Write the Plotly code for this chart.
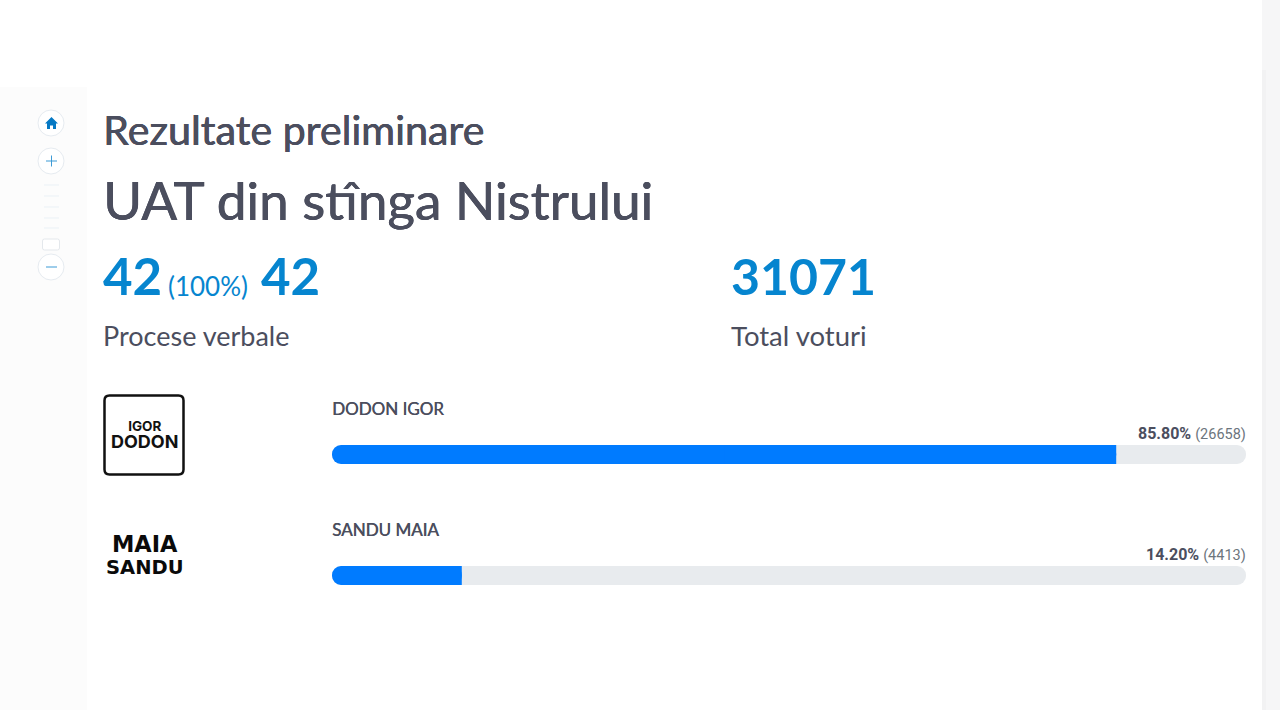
import plotly.graph_objects as go

candidates = ["DODON IGOR", "SANDU MAIA"]
shares = [85.80, 14.20]
votes = [26658, 4413]
title_top = "Rezultate preliminare"
title_main = "UAT din stînga Nistrului"
reports_done = 42
reports_pct = "(100%)"
reports_total = 42
reports_label = "Procese verbale"
total_votes = 31071
total_label = "Total voturi"

DARK = "#4b4e5e"
BLUE = "#0685cf"
BAR = "#007bff"
TRACK = "#e8ebee"
GREY = "#6c757d"
W, H = 1280, 710
BODY = "Lato"
NUM = "Roboto"


def px(x):
    return x / W


def py(y):
    return 1 - y / H


def hbar(xs, bases, color, radius):
    fig.add_trace(go.Bar(
        y=candidates, x=xs, base=bases, orientation="h",
        marker=dict(color=color, cornerradius=radius, line_width=0),
        hoverinfo="skip", showlegend=False,
    ))


fig = go.Figure()
# grey track, blue rounded bar, then a square-cornered overlay for the blue bar's right half
hbar([100 for _ in shares], [0 for _ in shares], TRACK, 9)
hbar(shares, [0 for _ in shares], BAR, 9)
hbar([s / 2 for s in shares], [s / 2 for s in shares], BAR, 0)

shapes = []


def rect(x0, y0, x1, y1, fill, line=None, lw=0):
    shapes.append(dict(type="rect", xref="paper", yref="paper", layer="below",
                       x0=px(x0), x1=px(x1), y0=py(y0), y1=py(y1), fillcolor=fill,
                       line=dict(color=line or fill, width=lw)))


def rpath(x0, y0, x1, y1, r, fill, line, lw):
    pts = [("M", x0 + r, y0), ("L", x1 - r, y0), ("Q", x1, y0, x1, y0 + r), ("L", x1, y1 - r),
           ("Q", x1, y1, x1 - r, y1), ("L", x0 + r, y1), ("Q", x0, y1, x0, y1 - r),
           ("L", x0, y0 + r), ("Q", x0, y0, x0 + r, y0)]
    d = ""
    for p in pts:
        c = p[1:]
        d += p[0] + " ".join(f"{px(c[i]):.5f},{py(c[i + 1]):.5f}" for i in range(0, len(c), 2)) + " "
    shapes.append(dict(type="path", xref="paper", yref="paper", path=d + "Z", fillcolor=fill,
                       line=dict(color=line, width=lw)))


def seg(x0, y0, x1, y1, color, lw=1):
    shapes.append(dict(type="line", xref="paper", yref="paper", x0=px(x0), x1=px(x1),
                       y0=py(y0), y1=py(y1), line=dict(color=color, width=lw)))


def circle(cx, cy, r):
    shapes.append(dict(type="circle", xref="paper", yref="paper", x0=px(cx - r), x1=px(cx + r),
                       y0=py(cy - r), y1=py(cy + r), fillcolor="#ffffff",
                       line=dict(color="#e6ebf0", width=1)))


# page panels
rect(0, 87, 87, 710, "#fcfcfc")
rect(1262, 0, 1280, 710, "#f6f6f7")
rect(1262, 70, 1266, 710, "#f2f2f3")

# map zoom control
circle(51, 123, 13)
circle(51, 161, 13)
circle(51, 267, 13)
home = [(51.5, 117), (58, 123.5), (56, 123.5), (56, 129), (53, 129), (53, 125.5), (50, 125.5),
        (50, 129), (47, 129), (47, 123.5), (45, 123.5)]
shapes.append(dict(type="path", xref="paper", yref="paper", fillcolor="#0679c4", line_width=0,
                   path="M" + " L".join(f"{px(a):.5f},{py(b):.5f}" for a, b in home) + " Z"))
seg(46, 161, 57, 161, "#3d9bd6")
seg(51.5, 155.5, 51.5, 166.5, "#3d9bd6")
seg(46, 267, 57, 267, "#3d9bd6")
for yy in (185, 196, 207, 218, 228):
    seg(44, yy, 59, yy, "#eaf1f6")
rpath(42.5, 239, 59.5, 250, 2, "#ffffff", "#e4e8ec", 1)

# logos
rpath(104.5, 395.5, 183.5, 474.5, 5, "rgba(0,0,0,0)", "#111111", 2.5)

ann = []


def text(x, y, s, size, color=DARK, family=BODY, weight=400, anchor="left", shadow=None):
    font = dict(family=family, size=size, color=color, weight=weight)
    if shadow:
        font["shadow"] = shadow
    ann.append(dict(xref="paper", yref="paper", x=px(x), y=py(y), text=s, showarrow=False,
                    xanchor=anchor, yanchor="middle", align=anchor,
                    borderpad=0, borderwidth=0, font=font))


FAKE = f"0.6px 0 0 {DARK}, 0 0.3px 0 {DARK}"
text(103, 129, title_top, 41.2, shadow=FAKE)
text(103, 199, title_main, 53, shadow=FAKE)
text(103, 276, str(reports_done), 51, BLUE, weight=700)
text(168, 286, reports_pct, 26, BLUE)
text(261, 276, str(reports_total), 51, BLUE, weight=700)
text(103, 335, reports_label, 27)
text(731, 276, str(total_votes), 50, BLUE, weight=700)
text(731, 335, total_label, 27.5)

rows_name = [408, 529]
rows_val = [433, 554]
for name, sh, v, yn, yv in zip(candidates, shares, votes, rows_name, rows_val):
    text(332, yn, name, 17, shadow=f"0.4px 0 0 {DARK}")
    text(1246, yv, f'<b>{sh:.2f}%</b> <span style="color:{GREY};font-size:14.5px">({v})</span>',
         16, DARK, NUM, anchor="right")

text(144, 435, '<span style="font-size:13.5px">IGOR</span><br>'
     '<span style="font-size:18px">DODON</span>', 13, "#111111", "Inter", 700, "center")
text(144, 555, '<span style="font-size:22.5px">MAIA</span><br>'
     '<span style="font-size:19.5px">SANDU</span>', 17.2, "#0a0a0a", "DejaVu Sans", 700, "center")

fig.update_layout(
    width=W, height=H, margin=dict(l=0, r=0, t=0, b=0),
    paper_bgcolor="#ffffff", plot_bgcolor="rgba(0,0,0,0)",
    barmode="overlay", bargap=1 - 19 / 121,
    shapes=shapes, annotations=ann,
    xaxis=dict(domain=[px(332), px(1246)], range=[0, 100], visible=False, fixedrange=True),
    yaxis=dict(domain=[py(636), py(394)], autorange="reversed", visible=False, fixedrange=True,
               categoryorder="array", categoryarray=candidates),
)

fig.write_html(
    "out.html",
    config={"displayModeBar": False},
    post_script="document.body.style.margin='0';document.body.style.overflow='hidden';",
)
